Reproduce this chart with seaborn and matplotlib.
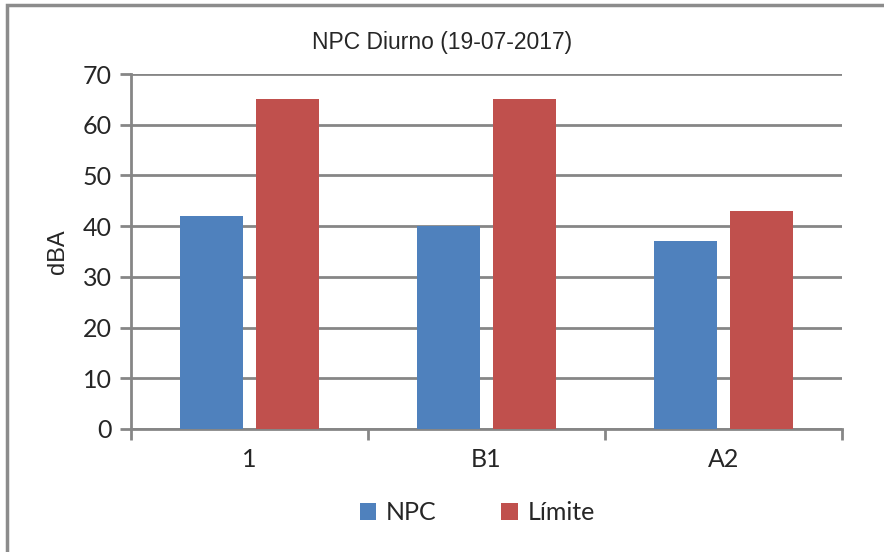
import numpy as np
import pandas as pd
import matplotlib.pyplot as plt
import seaborn as sns
from matplotlib.patches import Rectangle

puntos = ['1', 'B1', 'A2']
npc = [42, 40, 37]
limite = [65, 65, 43]
series = ['NPC', 'Límite']
colores = ['#4F81BD', '#C0504D']

df = pd.DataFrame({
    'punto': puntos * 2,
    'serie': ['NPC'] * 3 + ['Límite'] * 3,
    'dBA': npc + limite,
})

sns.set_style('white')
plt.rcParams['font.family'] = ['Lato', 'DejaVu Sans']

fig = plt.figure(figsize=(8.84, 5.52), dpi=100)
ax = fig.add_axes([131 / 884, 1 - 429 / 552, (842 - 131) / 884, (429 - 74) / 552])

sns.barplot(data=df, x='punto', y='dBA', hue='serie', hue_order=series,
            palette=colores, saturation=1, width=0.64, gap=0.16, ax=ax, zorder=3,
            edgecolor='none', legend=True)

ax.set_ylim(0, 70)
ax.set_xlim(-0.5, 2.5)
ax.set_yticks(np.arange(0, 71, 10))
ax.yaxis.grid(True, color='#868686', linewidth=2, zorder=0)
ax.set_axisbelow(True)
for s in ['top', 'right']:
    ax.spines[s].set_visible(False)
for s in ['left', 'bottom']:
    ax.spines[s].set_color('#868686')
    ax.spines[s].set_linewidth(2)

ax.tick_params(axis='y', which='major', length=8, width=2, color='#868686',
               left=True, labelsize=18, pad=6)
ax.tick_params(axis='x', which='major', length=0, labelsize=18, pad=14)
ax.set_xticks([-0.5, 0.5, 1.5, 2.5], minor=True)
ax.tick_params(axis='x', which='minor', length=8, width=2, color='#868686', bottom=True)
ax.set_xlabel('')
ax.set_ylabel('dBA', fontsize=17, family=['Liberation Sans', 'DejaVu Sans'], labelpad=10)

fig.text(0.5, 1 - 43 / 552, 'NPC Diurno (19-07-2017)', ha='center', va='center',
         fontsize=16.5, family=['Liberation Sans', 'DejaVu Sans'])

handles, labels = ax.get_legend_handles_labels()
ax.legend_.remove()
fig.legend(handles, labels, loc='center', bbox_to_anchor=(0.54, 1 - 513 / 552),
           ncol=2, frameon=False, fontsize=18, handlelength=0.65, handleheight=0.65,
           columnspacing=2.6, handletextpad=0.4)

fig.patches.append(Rectangle((7 / 884, -0.05), 2, 1.05 - 5 / 552, transform=fig.transFigure,
                             fill=False, edgecolor='#8c8c8c', linewidth=2.5, figure=fig))

fig.savefig('out.png', dpi=100)
